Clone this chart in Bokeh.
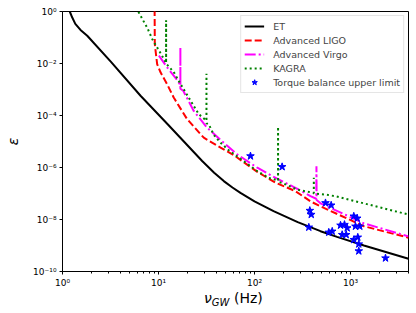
import numpy as np
from bokeh.plotting import figure
from bokeh.models import FixedTicker, CustomJSTickFormatter, Div
from bokeh.layouts import column
from bokeh.embed import file_html
from bokeh.resources import INLINE

# ---- data ----
et_f = [1.1, 1.19, 1.26, 1.36, 1.54, 1.81, 3.2, 6.5, 12.6, 28.5, 38.0, 47.9, 58.9, 71.4, 100, 158, 282,
        487, 724, 1380, 4020]
et_eps = [2.5, 1.0, 0.60, 0.335, 0.196, 0.117, 1.15e-2, 5.75e-4, 4.4e-5, 1.78e-6, 6.3e-7, 3.0e-7, 1.7e-7,
          1.05e-7, 5.0e-8, 2.1e-8, 7.9e-9, 3.55e-9, 2.14e-9, 1.0e-9, 3.1e-10]

ligo_f = [9.1, 9.15, 9.68, 10.5, 12.3, 14.4, 19.9, 29.6, 44.3, 60.8, 107, 166, 267, 383, 487, 1380, 4020]
ligo_eps = [3.0, 5.6e-2, 9.5e-3, 4.6e-3, 1.6e-3, 4.9e-4, 7.2e-5, 1.4e-5, 5.8e-6, 3.0e-6, 6.8e-7, 2.6e-7,
            1.23e-7, 5.0e-8, 3.2e-8, 5.5e-9, 2.0e-9]

virgo_f = [10.1, 12.3, 14.4, 16.1, 16.9, 16.9, 16.9, 18.1, 23.3, 32.1, 47.9, 66.1, 107, 166, 267, 383, 440,
           442, 444, 487, 1380, 4020]
virgo_eps = [2.0e-2, 7.1e-3, 3.4e-3, 2.0e-3, 1.4e-3, 4.2e-2, 1.07e-3, 8.9e-4, 1.5e-4, 3.4e-5, 8.9e-6, 3.2e-6,
             9.8e-7, 4.0e-7, 1.66e-7, 7.9e-8, 6.3e-8, 1.12e-6, 5.6e-8, 4.2e-8, 7.1e-9, 2.24e-9]

kagra_f = [5.5, 6.15, 7.68, 8.66, 10.1, 11.8, 12.0, 12.0, 12.0, 14.4, 16.9, 26.3, 31.6, 31.6, 31.6, 33.4,
           37.7, 44.3, 54, 107, 141, 176, 176, 176, 194, 279, 415, 415, 415, 550, 692, 4020]
kagra_eps = [2.1, 1.0, 0.226, 8.3e-2, 3.2e-2, 1.17e-2, 1.07e-2, 0.457, 1.0e-2, 4.7e-3, 1.66e-3, 1.12e-4,
             6.3e-5, 4.0e-3, 5.0e-5, 4.6e-5, 1.78e-5, 8.9e-6, 4.6e-6, 7.2e-7, 4.0e-7, 3.16e-7, 3.7e-5,
             2.8e-7, 2.57e-7, 1.41e-7, 1.05e-7, 4.0e-7, 1.0e-7, 9.1e-8, 7.9e-8, 1.55e-8]

star_f = [90.8, 194, 377, 390, 368, 549, 629, 594, 645, 787, 866, 924, 819, 902, 1082, 1175, 1127, 1250,
          1082, 1191, 1220, 1220, 2315]
star_eps = [2.75e-6, 1.06e-6, 2.2e-8, 1.55e-8, 5.0e-9, 4.34e-8, 3.53e-8, 3.2e-9, 3.5e-9, 5.97e-9, 6.35e-9,
            4.7e-9, 2.6e-9, 2.6e-9, 1.33e-8, 1.11e-8, 5.46e-9, 5.46e-9, 1.67e-9, 2.06e-9, 1.13e-9, 6.1e-10,
            3.27e-10]

x_major = [1, 10, 100, 1000]
x_minor = [2, 3, 4, 5, 6, 7, 8, 9, 20, 30, 40, 50, 60, 70, 80, 90,
           200, 300, 400, 500, 600, 700, 800, 900, 2000, 3000, 4000]
y_major = [1e0, 1e-2, 1e-4, 1e-6, 1e-8, 1e-10]

FONT = "DejaVu Sans"

p = figure(width=416, height=290, x_axis_type="log", y_axis_type="log",
           x_range=(1, 4020), y_range=(1e-10, 1),
           output_backend="svg", toolbar_location=None,
           min_border_left=62, min_border_right=8, min_border_top=11, min_border_bottom=19)
p.grid.visible = False
p.outline_line_color = "black"
p.outline_line_width = 1
p.background_fill_color = "white"
p.border_fill_color = "white"

sup_js = """
const m = {'-':'\u207b','0':'\u2070','1':'\u00b9','2':'\u00b2','3':'\u00b3','4':'\u2074',
           '5':'\u2075','6':'\u2076','7':'\u2077','8':'\u2078','9':'\u2079'};
const e = Math.round(Math.log10(tick));
return '10' + String(e).split('').map(c => m[c]).join('');
"""

p.xaxis.ticker = FixedTicker(ticks=x_major, minor_ticks=x_minor)
p.yaxis.ticker = FixedTicker(ticks=y_major, minor_ticks=[])
p.xaxis.formatter = CustomJSTickFormatter(code=sup_js)
p.yaxis.formatter = CustomJSTickFormatter(code=sup_js)
for ax in (p.xaxis[0], p.yaxis[0]):
    ax.major_label_text_font = FONT
    ax.major_label_text_font_size = "9px"
    ax.major_label_text_color = "black"
    ax.axis_line_color = "black"
    ax.major_tick_line_color = "black"
    ax.minor_tick_line_color = "black"
    ax.major_tick_in = 0
    ax.major_tick_out = 3
    ax.minor_tick_in = 0
    ax.minor_tick_out = 2
    ax.major_label_standoff = 3

p.yaxis.axis_label = "\u03b5"
p.yaxis.axis_label_text_font = FONT
p.yaxis.axis_label_text_font_size = "14px"
p.yaxis.axis_label_text_font_style = "italic"
p.yaxis.axis_label_text_color = "black"
p.yaxis.axis_label_standoff = 9

p.line(et_f, et_eps, color="black", line_width=2, legend_label="ET")
p.line(ligo_f, ligo_eps, color="#ff0000", line_width=2, line_dash="7 3", legend_label="Advanced LIGO")
p.line(virgo_f, virgo_eps, color="#ff00ff", line_width=2, line_dash="11 3 2 3", legend_label="Advanced Virgo")
p.line(kagra_f, kagra_eps, color="#008000", line_width=2, line_dash="2 3", legend_label="KAGRA")
p.scatter(star_f, star_eps, marker="star", size=8, color="#0000ff", legend_label="Torque balance upper limit")

lg = p.legend[0]
lg.location = "top_right"
lg.margin = 4
lg.padding = 3
lg.spacing = 0
lg.glyph_width = 20
lg.glyph_height = 14
lg.label_height = 14
lg.label_standoff = 9
lg.label_text_font = FONT
lg.label_text_font_size = "9.5px"
lg.border_line_color = "#cccccc"
lg.border_line_width = 1
lg.background_fill_alpha = 0.8

xlabel = Div(
    text=('<div style="margin-left:204px;font-family:\'DejaVu Sans\';font-size:14px;line-height:16px;'
          'white-space:nowrap;color:black">'
          '<i>\u03bd</i><i style="font-size:10px;position:relative;top:3px">GW</i> (Hz)</div>'),
    width=416, height=23, margin=(0, 0, 0, 0))

layout = column(p, xlabel, spacing=0)
open("out.html", "w").write(file_html(layout, INLINE))
